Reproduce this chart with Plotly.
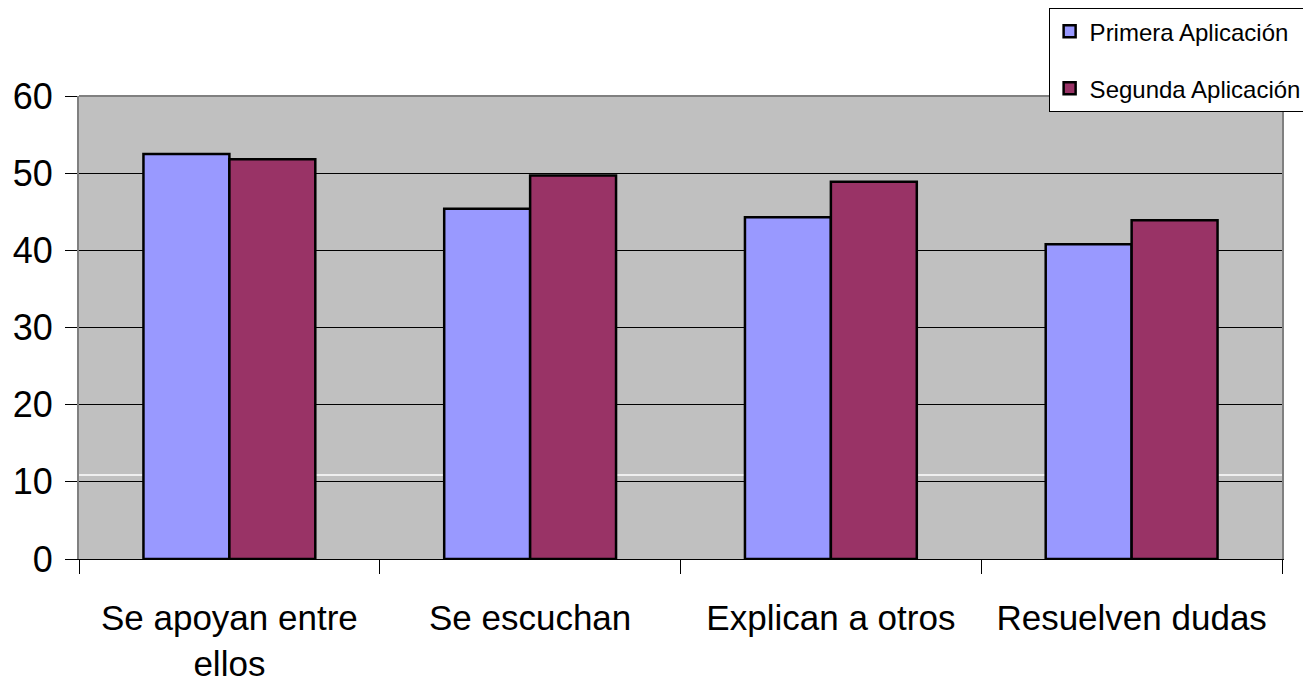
import plotly.graph_objects as go

categories = ["Se apoyan entre<br>ellos", "Se escuchan", "Explican a otros", "Resuelven dudas"]
primera = [52.5, 45.4, 44.3, 40.8]
segunda = [51.8, 49.7, 48.9, 43.9]
y_ticks = [0, 10, 20, 30, 40, 50, 60]

FONT = "Liberation Sans Narrow, Arial Narrow, Liberation Sans, Arial, sans-serif"

fig = go.Figure()
fig.add_trace(go.Bar(
    x=categories, y=primera, name="Primera Aplicación",
    marker=dict(color="#9999FF", line=dict(color="black", width=2.5)),
    legendgroup="a",
))
fig.add_trace(go.Bar(
    x=categories, y=segunda, name="Segunda Aplicación",
    marker=dict(color="#993366", line=dict(color="black", width=2.5)),
    legendgroup="b",
))

fig.update_layout(
    width=1311, height=699,
    margin=dict(l=71, r=37, t=88, b=148, autoexpand=False),
    paper_bgcolor="white",
    plot_bgcolor="#C0C0C0",
    barmode="group",
    bargap=0.4286,
    bargroupgap=0,
    font=dict(family=FONT, color="black"),
    showlegend=True,
    legend=dict(
        x=0.806, y=1.19, xanchor="left", yanchor="top",
        bgcolor="white", bordercolor="black", borderwidth=1,
        font=dict(size=24, family=FONT),
        tracegroupgap=23, traceorder="grouped",
    ),
    xaxis=dict(
        type="category", automargin=False,
        showline=True, linecolor="black", linewidth=1,
        ticks="outside", tickson="boundaries", ticklen=14, tickcolor="black",
        tickfont=dict(size=35, family=FONT),
        ticklabelstandoff=28,
        showgrid=False,
    ),
    yaxis=dict(
        range=[0, 60], automargin=False,
        tickvals=y_ticks,
        showline=True, linecolor="#808080", linewidth=2, mirror=True,
        ticks="outside", ticklen=12, tickcolor="black",
        tickfont=dict(size=36, family=FONT),
        ticklabelstandoff=5,
        showgrid=True, gridcolor="black", gridwidth=1,
        zeroline=False,
    ),
)

# top border of plot area
fig.add_shape(type="line", xref="paper", yref="paper", x0=0, x1=1, y0=1, y1=1,
              line=dict(color="#808080", width=2))
# faint white line in the plot background
fig.add_shape(type="line", xref="paper", yref="y", x0=0, x1=1, y0=10.9, y1=10.9,
              line=dict(color="white", width=1.5), layer="below")

fig.write_html("out.html")
